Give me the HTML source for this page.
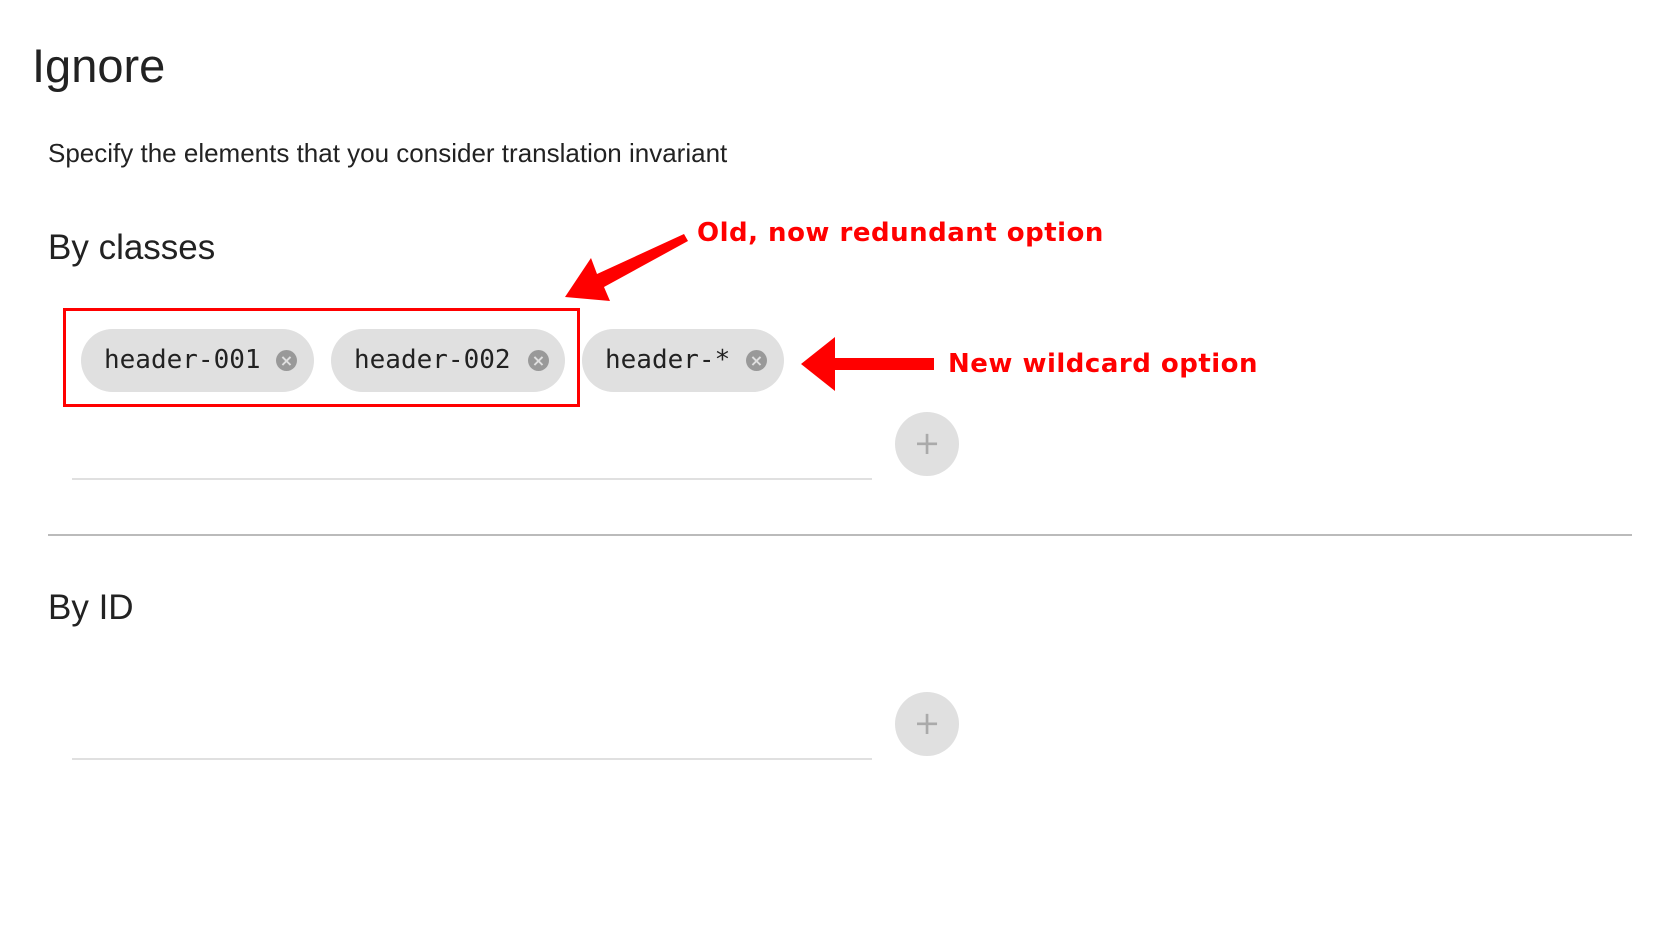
<!DOCTYPE html>
<html><head><meta charset="utf-8"><style>
body{margin:0;width:1664px;height:942px;background:#fff;position:relative;overflow:hidden;font-family:"Liberation Sans",sans-serif;color:#222}
.a{position:absolute;white-space:nowrap}
.chip{position:absolute;top:329px;height:63px;border-radius:32px;background:#e0e0e0}
.chip span{position:absolute;left:23px;top:16px;font-family:"DejaVu Sans Mono","Liberation Mono",monospace;font-size:26px;color:#222}
.x{position:absolute;top:21px;width:21px;height:21px;border-radius:50%;background:#999;color:#e0e0e0;font-size:16px;line-height:21px;text-align:center;font-family:"DejaVu Sans",sans-serif;font-weight:bold}
.line{position:absolute;left:72px;width:800px;height:2px;background:#e0e0e0}
.plus{position:absolute;left:895px;width:64px;height:64px;border-radius:50%;background:#e0e0e0;color:#aaa;font-size:32px;line-height:62px;text-align:center;font-family:"DejaVu Sans",sans-serif}
.red{color:#f00;font-family:"DejaVu Sans",sans-serif;font-weight:bold;font-size:26px;letter-spacing:0.5px}
</style></head><body>
<div class="a" style="left:32px;top:38px;font-size:47px;">Ignore</div>
<div class="a" style="left:48px;top:138px;font-size:26px;">Specify the elements that you consider translation invariant</div>
<div class="a" style="left:48px;top:228px;font-size:35px;">By classes</div>
<div class="chip" style="left:81px;width:233px"><span>header-001</span><div class="x" style="left:195px">×</div></div>
<div class="chip" style="left:331px;width:234px"><span>header-002</span><div class="x" style="left:197px">×</div></div>
<div class="chip" style="left:582px;width:202px"><span>header-*</span><div class="x" style="left:164px">×</div></div>
<div class="a" style="left:63px;top:308px;width:511px;height:93px;border:3px solid #f00"></div>
<svg class="a" style="left:0;top:0" width="1664" height="942">
<polygon points="684,234 688,241 604,287 610,301 565,297 591,258 597,274" fill="#f00"/>
<polygon points="801,364 835,337 835,358 934,358 934,370 835,370 835,391" fill="#f00"/>
</svg>
<div class="a red" style="left:697px;top:218px;">Old, now redundant option</div>
<div class="a red" style="left:948px;top:349px;">New wildcard option</div>
<div class="line" style="top:478px"></div>
<div class="plus" style="top:412px">+</div>
<div class="a" style="left:48px;top:534px;width:1584px;height:2px;background:#bbb"></div>
<div class="a" style="left:48px;top:588px;font-size:35px;">By ID</div>
<div class="line" style="top:758px"></div>
<div class="plus" style="top:692px">+</div>
</body></html>
